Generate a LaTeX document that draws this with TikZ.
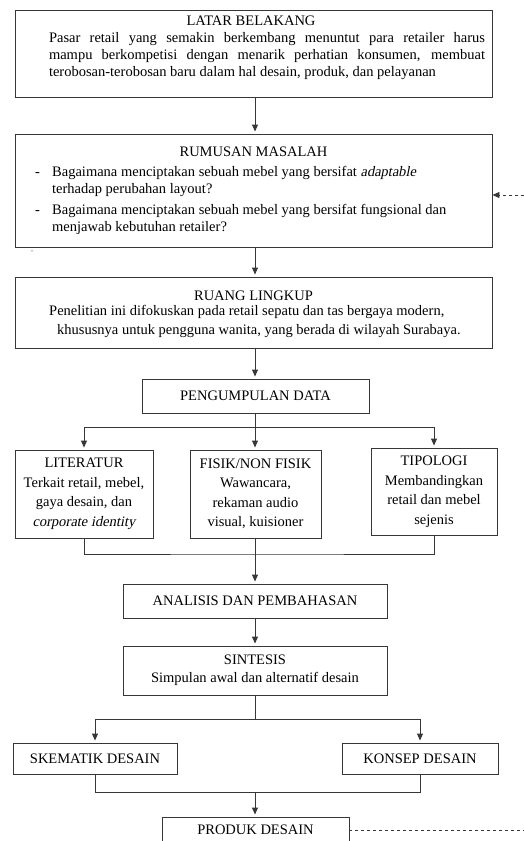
\documentclass[tikz,border=0pt]{standalone}
\usepackage{fontspec}
\setmainfont{Liberation Serif}[ItalicFont=Liberation Serif,ItalicFeatures={FakeSlant=0.2}]
\usetikzlibrary{arrows.meta}
\definecolor{LineGray}{RGB}{55,55,55}
\tikzset{
  box/.style={
    draw=LineGray,
    line width=0.9pt,
    inner sep=0pt,
    align=center,
    font=\fontsize{14.5}{19.5}\selectfont
  },
  txt/.style={inner sep=0pt,font=\fontsize{14.5}{17}\selectfont},
  link/.style={draw=LineGray,line width=0.9pt},
  arrow/.style={link,-{Triangle[length=7pt,width=6pt]},shorten >=2pt},
  dasharrow/.style={link,dash pattern=on 3pt off 3pt,-{Triangle[length=7pt,width=6pt]}},
  dashlink/.style={link,dash pattern=on 3pt off 3pt}
}

\begin{document}
\begin{tikzpicture}[x=1pt,y=-1pt]
\useasboundingbox (0,0) rectangle (524,841);

% Latar belakang
\node[box,minimum width=477pt,minimum height=87pt] (latar) at (253.5,53.5) {};
\node[txt,anchor=base] (latarjudul) at (251,25) {LATAR BELAKANG};
\node[txt,text width=436pt,align=justify] (latarisi) at (267,56.5)
  {Pasar retail yang semakin berkembang menuntut para retailer harus\linebreak
   mampu berkompetisi dengan menarik perhatian konsumen, membuat\linebreak
   terobosan-terobosan baru dalam hal desain, produk, dan pelayanan};

% Rumusan masalah
\node[box,minimum width=477pt,minimum height=113pt] (rumusan) at (253.5,190.5) {};
\node[txt,anchor=base] (rumusanjudul) at (253.5,156) {RUMUSAN MASALAH};
\node[txt,anchor=west,align=left] (rumusanisi) at (35,200)
  {\makebox[17pt][l]{-}Bagaimana menciptakan sebuah mebel yang bersifat \textit{adaptable}\\
   \hspace*{17pt}terhadap perubahan layout?\\[4pt]
   \makebox[17pt][l]{-}Bagaimana menciptakan sebuah mebel yang bersifat fungsional dan\\
   \hspace*{17pt}menjawab kebutuhan retailer?};
\node[txt,text=gray,font=\fontsize{9}{9}\selectfont] (sisa) at (32,252) {-};

% Ruang lingkup
\node[box,minimum width=477pt,minimum height=71pt] (lingkup) at (253.5,312.5) {};
\node[txt,anchor=base] (lingkupjudul) at (253.5,300) {RUANG LINGKUP};
\node[txt,anchor=west,align=left,font=\fontsize{14.5}{19}\selectfont] (lingkupisi) at (49,321)
  {Penelitian ini difokuskan pada retail sepatu dan tas bergaya modern,\\
   \hspace*{8pt}khususnya untuk pengguna wanita, yang berada di wilayah Surabaya.};

% Pengumpulan data
\node[box,minimum width=227pt,minimum height=34pt] (kumpul) at (255.5,396) {PENGUMPULAN DATA};
\coordinate (pisah1) at (255,427);

\node[box,minimum width=138pt,minimum height=88pt] (literatur) at (84,494)
  {LITERATUR\\Terkait retail, mebel,\\gaya desain, dan\\\textit{corporate identity}};
\node[box,minimum width=131pt,minimum height=88pt] (fisik) at (255.5,494)
  {FISIK/NON FISIK\\Wawancara,\\rekaman audio\\visual, kuisioner};
\node[box,minimum width=126pt,minimum height=87pt] (tipologi) at (434,491.5)
  {TIPOLOGI\\Membandingkan\\retail dan mebel\\sejenis};
\coordinate (gabung1) at (255,554);

% Analisis dan sintesis
\node[box,minimum width=264pt,minimum height=34pt] (analisis) at (255,601) {ANALISIS DAN PEMBAHASAN};
\node[box,minimum width=264pt,minimum height=49pt,font=\fontsize{14.5}{18}\selectfont] (sintesis) at (255,670.5)
  {SINTESIS\\Simpulan awal dan alternatif desain};
\coordinate (pisah2) at (255,719);

\node[box,minimum width=164pt,minimum height=31pt] (skematik) at (95,758.5) {SKEMATIK DESAIN};
\node[box,minimum width=156pt,minimum height=31pt] (konsep) at (420,758.5) {KONSEP DESAIN};
\coordinate (gabung2) at (255,792);

\node[box,minimum width=187pt,minimum height=26pt] (produk) at (255.5,830) {PRODUK DESAIN};
\coordinate (ujung) at (524,830);
\coordinate (balik) at (524,195);

% connectors
\draw[arrow] (latar.south -| pisah1) -- (rumusan.north -| pisah1);
\draw[arrow] (rumusan.south -| pisah1) -- (lingkup.north -| pisah1);
\draw[arrow] (lingkup.south -| pisah1) -- (kumpul.north -| pisah1);
\draw[link] (kumpul.south -| pisah1) -- (pisah1);
\draw[arrow] (pisah1) -| (literatur.north);
\draw[arrow] (pisah1) -- (fisik.north -| pisah1);
\draw[arrow] (pisah1) -| (tipologi.north);

\draw[link] (literatur.south) |- (gabung1) -| (tipologi.south);
\draw[arrow] (fisik.south -| gabung1) -- (analisis.north -| gabung1);
\draw[arrow] (analisis) -- (sintesis);
\draw[link] (sintesis) -- (pisah2);
\draw[arrow] (pisah2) -| (skematik.north);
\draw[arrow] (pisah2) -| (konsep.north);

\draw[link] (skematik.south) |- (gabung2) -| (konsep.south);
\draw[arrow] (gabung2) -- (produk.north -| gabung2);

\draw[dashlink] (produk.east) -- (ujung);
\draw[dasharrow] (balik) -- (rumusan.east |- balik);

\end{tikzpicture}
\end{document}
